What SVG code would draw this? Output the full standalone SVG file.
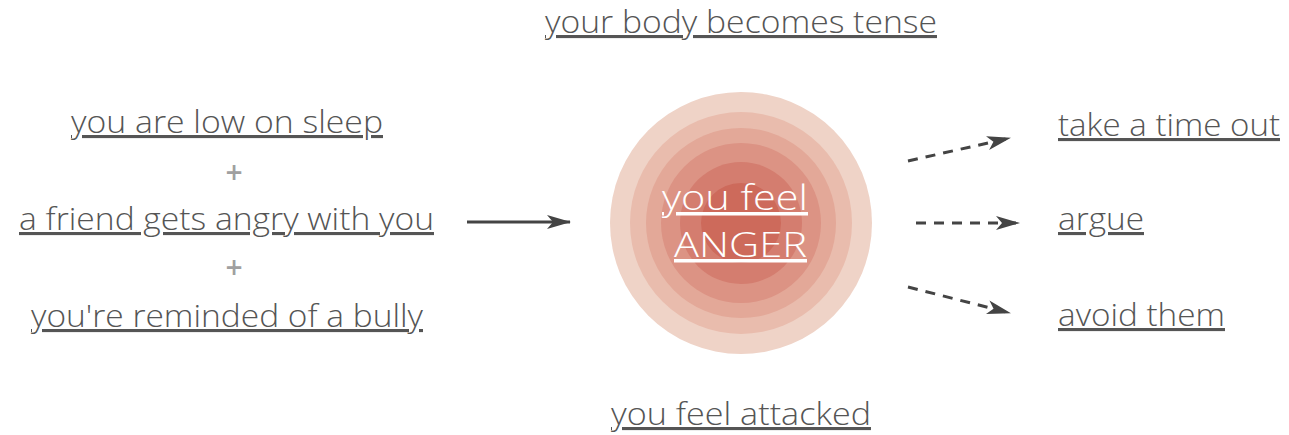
<svg xmlns="http://www.w3.org/2000/svg" width="1289" height="435" viewBox="0 0 1289 435">
<style>
.t{font-family:"Open Sans",Lato,"Liberation Sans",sans-serif;font-weight:300;font-size:31px;fill:#555;text-decoration:underline;}
.plus{font-family:"Open Sans","Liberation Sans",sans-serif;font-weight:600;font-size:30px;fill:#a0a0a0;text-anchor:middle;}
.c{font-family:"Open Sans",Lato,"Liberation Sans",sans-serif;font-weight:300;font-size:35px;fill:#fff;text-decoration:underline;}
.conn{stroke:#444;stroke-width:3;fill:none;}
.dash{stroke-dasharray:10 8;}
</style>
<defs>
<marker id="ah2" viewBox="0 0 24 16" refX="23" refY="8" markerWidth="24" markerHeight="16" markerUnits="userSpaceOnUse" orient="auto">
<path d="M0,1 L24,8 L0,15 L6,8 Z" fill="#444"/>
</marker>
</defs>
<g id="anger">
<circle cx="741" cy="223" r="131" fill="#efd3c7"/>
<circle cx="741" cy="223" r="111" fill="#e9bcad"/>
<circle cx="741" cy="223" r="95" fill="#e3a898"/>
<circle cx="741" cy="223" r="80" fill="#dc9384"/>
<circle cx="741" cy="223" r="61" fill="#d47d6f"/>
<circle cx="741" cy="223" r="40" fill="#cd6a5b"/>
<text class="c" x="662" y="210" textLength="146" lengthAdjust="spacingAndGlyphs">you feel</text>
<text class="c" x="674" y="257" textLength="133" lengthAdjust="spacingAndGlyphs">ANGER</text>
</g>
<g id="top"><text class="t" x="545" y="33" textLength="392" lengthAdjust="spacingAndGlyphs">your body becomes tense</text></g>
<g id="bottom"><text class="t" x="611" y="425" textLength="260" lengthAdjust="spacingAndGlyphs">you feel attacked</text></g>
<g id="sleep"><text class="t" x="71" y="133" textLength="312" lengthAdjust="spacingAndGlyphs">you are low on sleep</text></g>
<g id="plus1"><text class="plus" x="234" y="183">+</text></g>
<g id="friend"><text class="t" x="19" y="230" textLength="415" lengthAdjust="spacingAndGlyphs">a friend gets angry with you</text></g>
<g id="plus2"><text class="plus" x="234" y="278">+</text></g>
<g id="bully"><text class="t" x="31" y="327" textLength="392" lengthAdjust="spacingAndGlyphs">you're reminded of a bully</text></g>
<g id="timeout"><text class="t" x="1058" y="136" textLength="222" lengthAdjust="spacingAndGlyphs">take a time out</text></g>
<g id="argue"><text class="t" x="1058" y="230" textLength="86" lengthAdjust="spacingAndGlyphs">argue</text></g>
<g id="avoid"><text class="t" x="1058" y="326" textLength="167" lengthAdjust="spacingAndGlyphs">avoid them</text></g>
<g id="connectors">
<line class="conn" x1="467" y1="222" x2="570" y2="222" marker-end="url(#ah2)"/>
<line class="conn dash" x1="908" y1="161" x2="1010" y2="138" marker-end="url(#ah2)"/>
<line class="conn dash" x1="916" y1="223" x2="1019" y2="223" marker-end="url(#ah2)"/>
<line class="conn dash" x1="908" y1="287" x2="1010" y2="313" marker-end="url(#ah2)"/>
</g>
</svg>
